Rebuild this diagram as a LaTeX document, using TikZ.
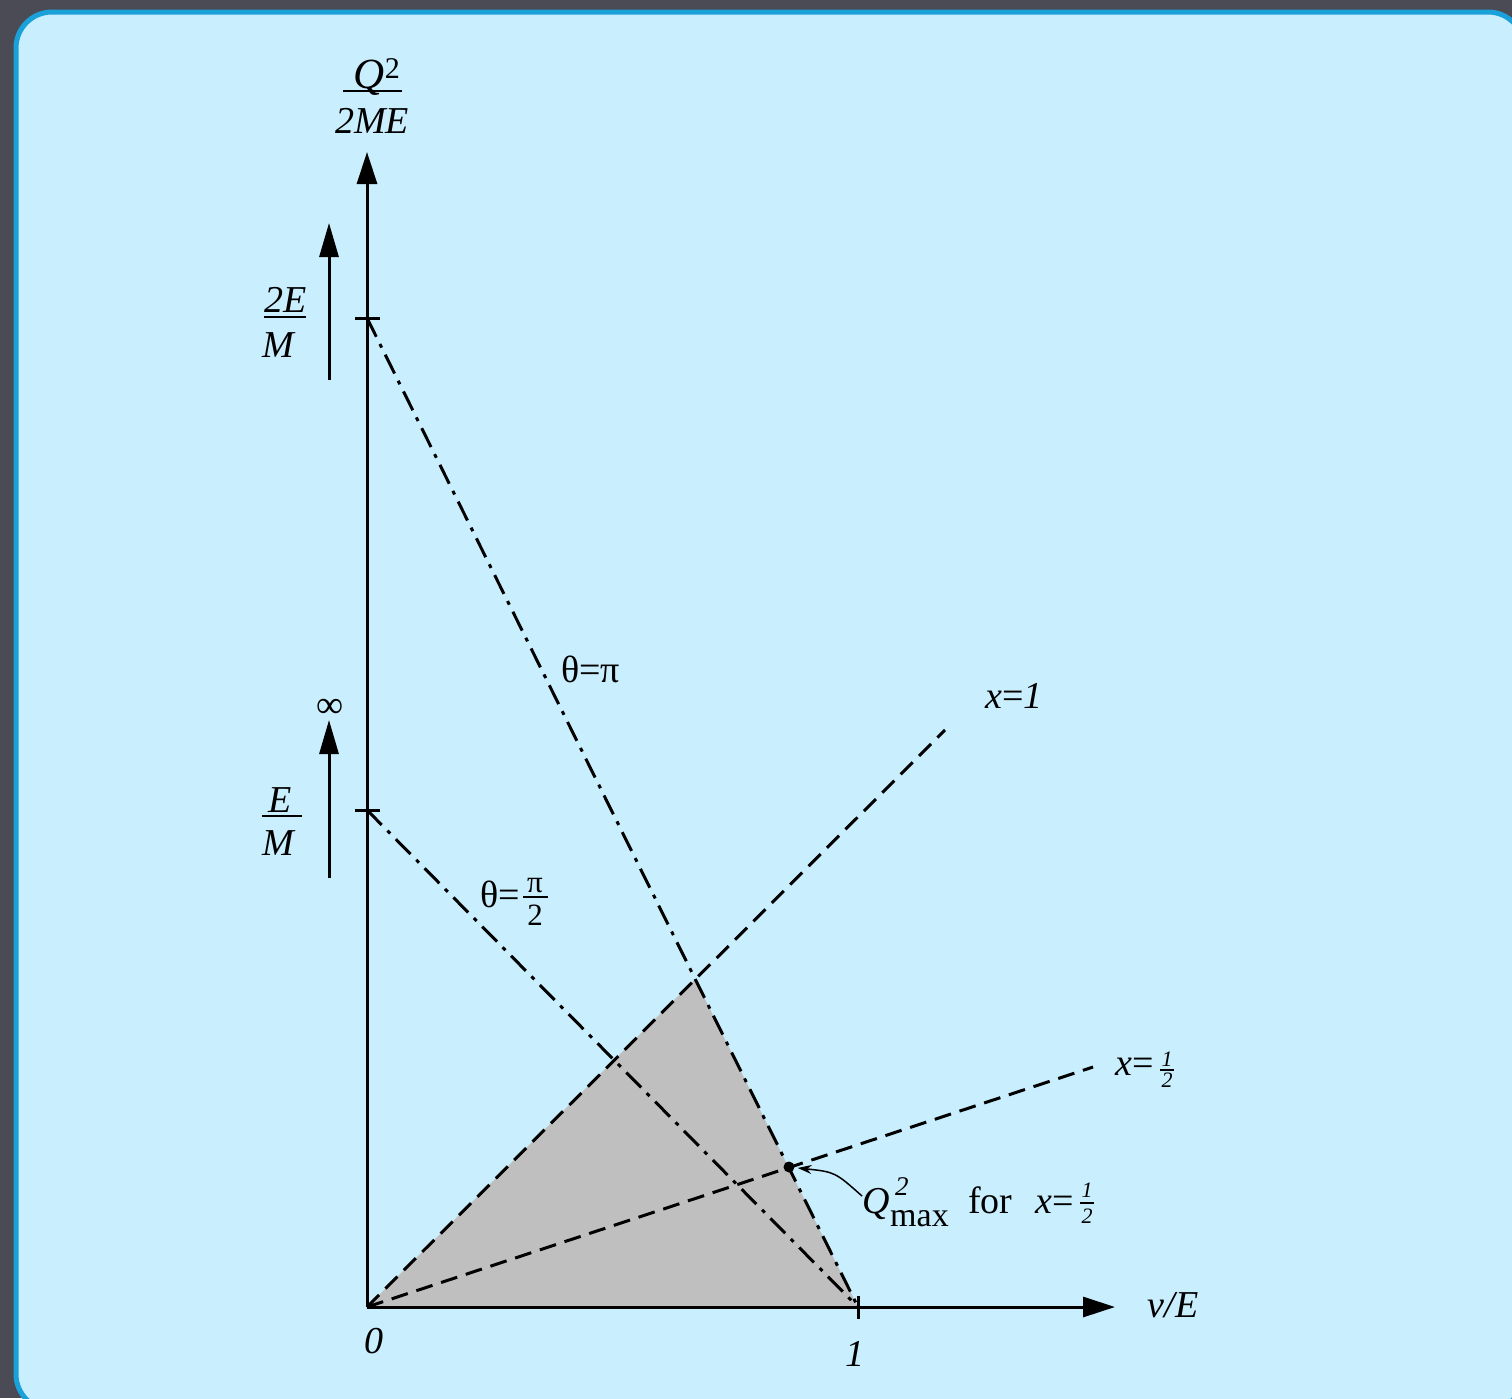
\documentclass[tikz,border=0pt]{standalone}
\usepackage{fontspec}
\setmainfont{Liberation Serif}
\usetikzlibrary{arrows.meta}
\definecolor{bgdark}{HTML}{4A4B54}
\definecolor{panelblue}{HTML}{C9EEFD}
\definecolor{rimblue}{HTML}{1BA1D9}
\definecolor{shadegray}{HTML}{BFBFBF}
\begin{document}
\begin{tikzpicture}[x=1pt,y=-1pt,
  axisline/.style={line width=3pt,-{Triangle[length=32pt,width=20pt]}},
  uparrow/.style={line width=3pt,-{Triangle[length=34pt,width=19pt]}},
  tickmark/.style={line width=3pt},
  dashln/.style={line width=3pt,dash pattern=on 17pt off 9pt},
  dashdotln/.style={line width=3pt,dash pattern=on 21pt off 8pt on 4pt off 8pt},
  fracbar/.style={line width=2pt},
  lbl/.style={font=\fontsize{38}{44}\selectfont,inner sep=0pt},
  biglbl/.style={font=\fontsize{43}{48}\selectfont,inner sep=0pt},
  glbl/.style={font=\fontsize{38}{44}\selectfont,inner sep=0pt},
  sublbl/.style={font=\fontsize{34}{40}\selectfont,inner sep=0pt},
  midlbl/.style={font=\fontsize{31}{36}\selectfont,inner sep=0pt},
  smalllbl/.style={font=\fontsize{22}{26}\selectfont,inner sep=0pt},
  suplbl/.style={font=\fontsize{27}{32}\selectfont,inner sep=0pt},
  pointer/.style={line width=1.5pt,-{Stealth[length=14pt,width=9pt]}}
]
\useasboundingbox (0,0) rectangle (1512,1398);
\fill[bgdark] (0,0) rectangle (1512,1398);
\draw[rimblue,line width=5pt,fill=panelblue,rounded corners=36pt] (16,12) rectangle (1524,1410);

% key points
\coordinate (O) at (367,1307);
\coordinate (X1) at (858,1307);
\coordinate (Xend) at (1115,1307);
\coordinate (Yend) at (367,152);
\coordinate (Y2) at (367,318);
\coordinate (Y1) at (367,810);
\coordinate (Aend) at (945,730);
\coordinate (Bend) at (1093,1067);
\coordinate (P) at (695,979);

% shaded region
\fill[shadegray] (O) -- (P) -- (X1) -- cycle;

% axes
\draw[axisline] (O) -- (Xend);
\draw[axisline] (O) -- (Yend);
\draw[tickmark] (355,318) -- (380,318);
\draw[tickmark] (355,810) -- (380,810);
\draw[tickmark] (858,1296) -- (858,1319);

% lines
\draw[dashdotln] (Y2) -- (X1);
\draw[dashdotln] (Y1) -- (X1);
\draw[dashln] (O) -- (Aend);
\draw[dashln] (O) -- (Bend);

% left arrows
\coordinate (La1) at (329,380);
\coordinate (La2) at (329,223);
\coordinate (Lb1) at (329,878);
\coordinate (Lb2) at (329,720);
\draw[uparrow] (La1) -- (La2);
\draw[uparrow] (Lb1) -- (Lb2);

% axis labels
\node[biglbl,anchor=base] (qnum) at (377,88) {\textit{Q}\textsuperscript{2}};
\draw[fracbar] (343,91) -- (402,91);
\node[lbl,anchor=base] (qden) at (372,133) {\textit{2ME}};

\node[lbl,anchor=base] (twoE) at (286,312) {\textit{2E}};
\draw[fracbar] (264,317) -- (306,317);
\node[lbl,anchor=base] (Mone) at (279,357) {\textit{M}};

\node[lbl,anchor=base] (Eone) at (280,812) {\textit{E}};
\draw[fracbar] (262,816) -- (302,816);
\node[lbl,anchor=base] (Mtwo) at (279,855) {\textit{M}};

\node[lbl] (infty) at (330,708) {∞};

\node[lbl,anchor=base] (zero) at (374,1353) {\textit{0}};
\node[lbl,anchor=base] (one) at (855,1366) {\textit{1}};
\node[lbl,anchor=base] (nuE) at (1173,1317) {\textit{ν/E}};

% theta labels
\node[glbl,anchor=base west] (thpi) at (561,682) {θ=π};
\node[glbl,anchor=base west] (thhalf) at (480,907) {θ=};
\node[midlbl,anchor=base] (pinum) at (535,892) {π};
\draw[fracbar] (523,897) -- (548,897);
\node[midlbl,anchor=base] (twoden) at (535,925) {2};

% x labels
\node[lbl,anchor=base west] (xone) at (985,708) {\textit{x}=\textit{1}};
\node[lbl,anchor=base west] (xhalf) at (1115,1075) {\textit{x}=};
\node[smalllbl,anchor=base] (xhnum) at (1167,1066) {\textit{1}};
\draw[line width=1.3pt] (1160,1070) -- (1174,1070);
\node[smalllbl,anchor=base] (xhden) at (1167,1087) {\textit{2}};

% Q2max annotation
\node[circle,fill=black,inner sep=0pt,minimum size=11pt] (qmax) at (789,1167) {};
\node[lbl,anchor=base west] (qmaxQ) at (862,1213) {\textit{Q}};
\node[suplbl,anchor=base west] (qmaxsup) at (895,1195) {\textit{2}};
\node[sublbl,anchor=base west] (qmaxsub) at (890,1226) {max};
\node[glbl,anchor=base west] (forword) at (968,1213) {for};
\node[lbl,anchor=base west] (xhalfb) at (1035,1213) {\textit{x}=};
\node[smalllbl,anchor=base] (xbnum) at (1087,1197) {\textit{1}};
\draw[line width=1.3pt] (1080,1203) -- (1094,1203);
\node[smalllbl,anchor=base] (xbden) at (1087,1223) {\textit{2}};
\coordinate (qstart) at (862,1196);
\draw[pointer,shorten >=3pt] (qstart) .. controls (835,1172) .. (qmax);
\end{tikzpicture}
\end{document}
